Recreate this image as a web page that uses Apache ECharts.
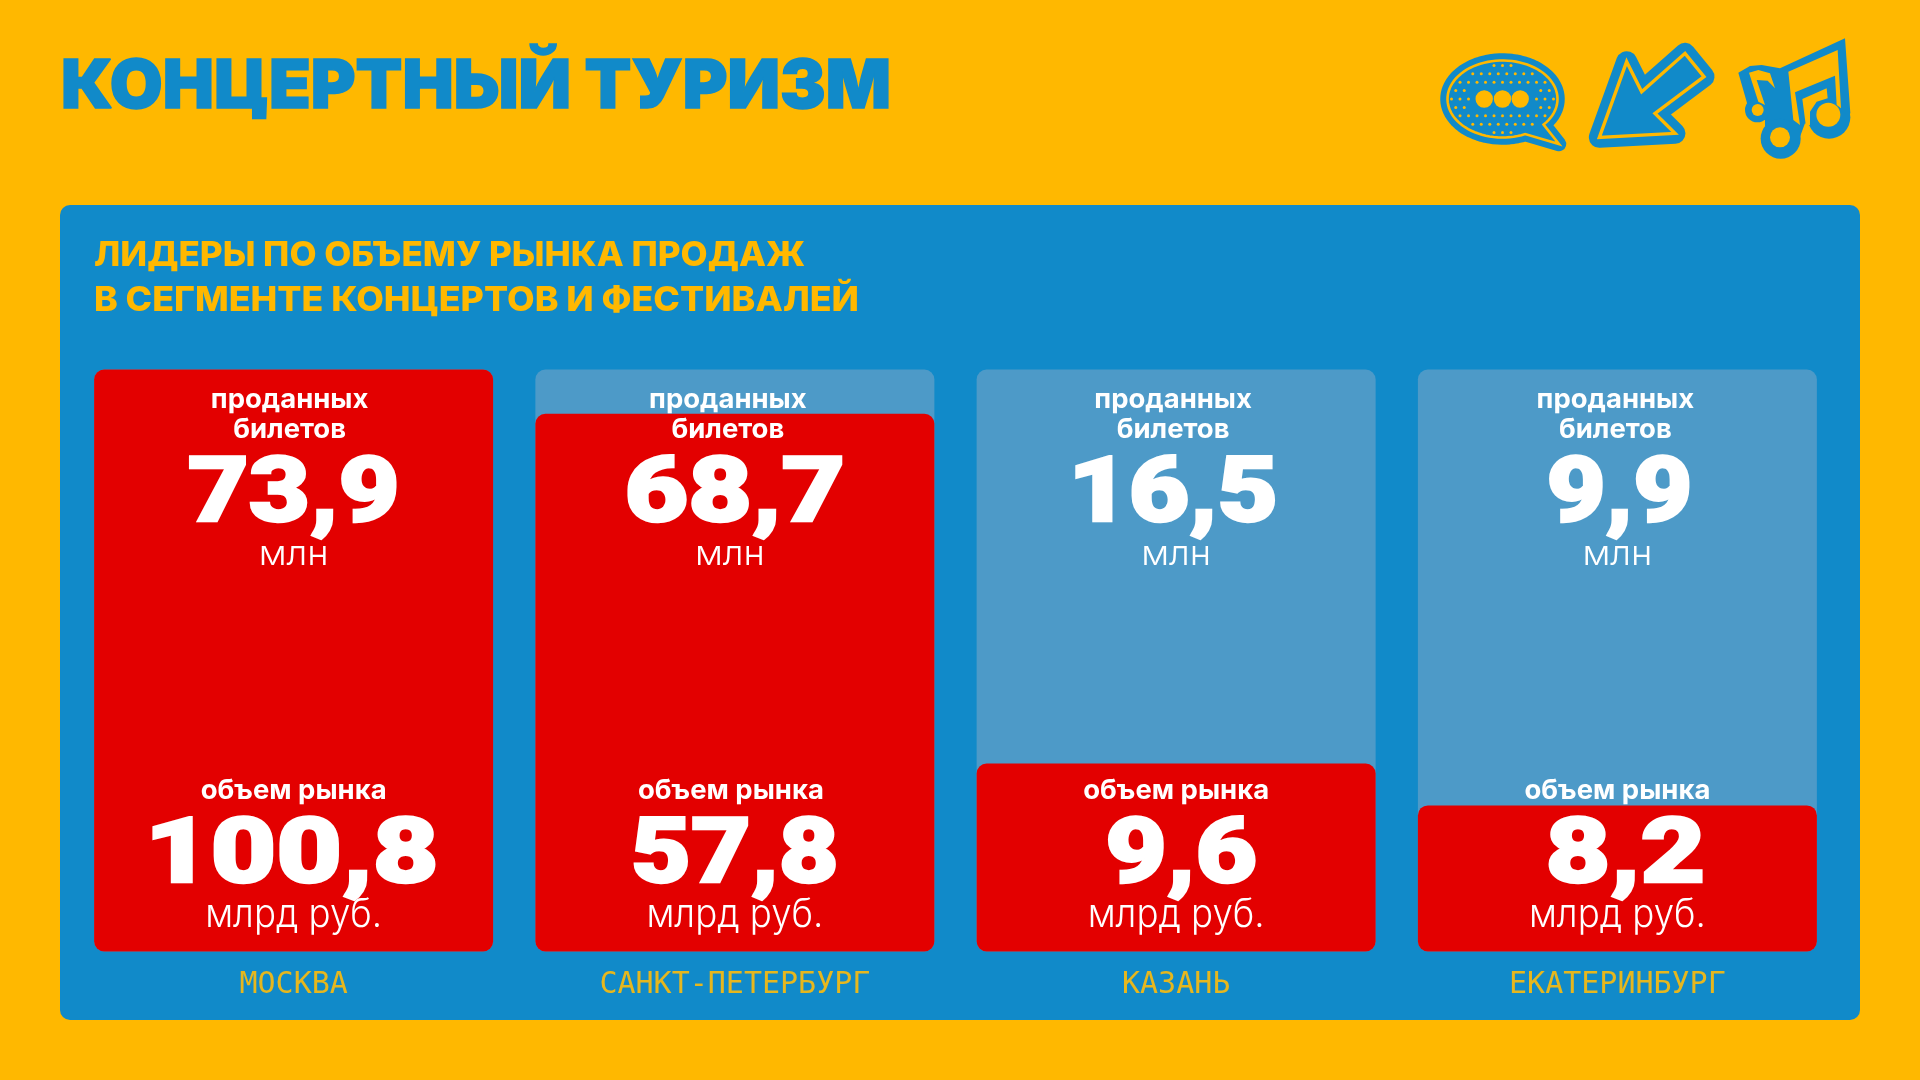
<!DOCTYPE html>
<html><head><meta charset="utf-8">
<style>html,body{margin:0;padding:0;background:#FFB800;width:1920px;height:1080px;overflow:hidden}#c{width:1920px;height:1080px}</style>
<script src="https://cdn.jsdelivr.net/npm/echarts@6/dist/echarts.min.js"></script>
</head><body><div id="c"></div>
<script>
const titleText = 'КОНЦЕРТНЫЙ ТУРИЗМ';
const subtitleLines = ['ЛИДЕРЫ ПО ОБЪЕМУ РЫНКА ПРОДАЖ', 'В СЕГМЕНТЕ КОНЦЕРТОВ И ФЕСТИВАЛЕЙ'];
const cities = ['МОСКВА', 'САНКТ-ПЕТЕРБУРГ', 'КАЗАНЬ', 'ЕКАТЕРИНБУРГ'];
const ticketLabels = ['73,9', '68,7', '16,5', '9,9'];
const marketLabels = ['100,8', '57,8', '9,6', '8,2'];
// heights of the blocks, in % of the full card
const cardHeights = [100, 100, 100, 100];
const redHeights = [100, 92.4, 32.3, 25.1];

const BLUE = '#118AC9', YEL = '#FFB800', RED = '#E30000', PALE = '#4D9AC8';
const ctx = document.createElement('canvas').getContext('2d');
function fit(text, font, w) { ctx.font = font; return w / ctx.measureText(text).width; }

const F = {
  head: '700 27px Inter, sans-serif',
  num: '900 90px Roboto, sans-serif',
  mln: '300 35px Inter, sans-serif',
  rub: '300 39px Inter, sans-serif',
  title: '900 68px Inter, sans-serif',
  sub: '800 34px Inter, sans-serif'
};
// drawn widths and nudges of the big figures (style, not data)
const ticketWidths = [212, 221, 210, 146];
const marketWidths = [294, 208, 152, 160];
const ticketShift = [0, 0, -3, 2];
const marketNudge = [-2, 0, 5, 8];
const sHead = fit('объем рынка', F.head, 186);
const sMln = fit('млн', F.mln, 70);
const sRub = fit('млрд руб.', F.rub, 177);

function txt(x, y, text, font, sx, extra) {
  return { type: 'text', x: x, y: y, scaleX: sx, scaleY: 1, z2: 5,
    style: Object.assign({ text: text, x: 0, y: 0, font: font, fill: '#fff', align: 'center', verticalAlign: 'middle' }, extra || {}) };
}
const upperShift = [-4, -7, -3, -2];
const marketShift = [0, -4, 0, 0];
const NUM = { stroke: '#fff', lineWidth: 2.5, lineJoin: 'round' };

function renderTexts(params, api) {
  const i = api.value(0);
  const x = api.coord([i, 0])[0], top = api.coord([i, 100])[1];
  const s = upperShift[i];
  return { type: 'group', children: [
    txt(x + s, top + 30, 'проданных', F.head, sHead),
    txt(x + s, top + 60, 'билетов', F.head, sHead),
    txt(x + ticketShift[i], top + 129, ticketLabels[i], F.num, fit(ticketLabels[i], F.num, ticketWidths[i]), NUM),
    txt(x + (i === 1 ? -5 : 0), top + 185, 'млн', F.mln, sMln),
    txt(x + marketShift[i], top + 421, 'объем рынка', F.head, sHead),
    txt(x + marketNudge[i], top + 490, marketLabels[i], F.num, fit(marketLabels[i], F.num, marketWidths[i]), NUM),
    txt(x, top + 546, 'млрд руб.', F.rub, sRub)
  ]};
}

// decorative icons
function poly(pts, style, z, ox, oy, k) {
  return { type: 'polygon', z: z, shape: { points: pts.map(p => [p[0] / k + ox, p[1] / k + oy]) }, style: style };
}
function bubblePoints() {
  const pts = [];
  const ex = 1502.5, ey = 99, rx = 55, ry = 38.5;
  const a0 = Math.atan2((127 - ey) / ry, (1547.5 - ex) / rx);
  const a1 = Math.atan2((137 - ey) / ry, (1527 - ex) / rx);
  const end = a1 - 2 * Math.PI;
  for (let t = 0; t <= 80; t++) {
    const a = a0 + (end - a0) * t / 80;
    pts.push([ex + rx * Math.cos(a), ey + ry * Math.sin(a)]);
  }
  pts.push([1559, 144]);
  return pts;
}
function icons() {
  const out = [];
  const bubble = bubblePoints();
  out.push({ type: 'polygon', z: 3, shape: { points: bubble }, style: { fill: BLUE, stroke: BLUE, lineWidth: 14.5, lineJoin: 'round' } });
  out.push({ type: 'polygon', z: 3, shape: { points: bubble }, style: { fill: BLUE, stroke: YEL, lineWidth: 2.6, lineJoin: 'miter' } });
  const cx = 1502.5, cy = 99, dx = 8.5, dy = 8.4;
  for (let r = -4; r <= 4; r++) {
    for (let c = -7; c <= 7; c++) {
      const px = c * dx + (r % 2 ? dx / 2 : 0), py = r * dy;
      if ((px * px) / (51 * 51) + (py * py) / (35 * 35) > 1) continue;
      if (Math.abs(r) <= 1 && Math.abs(px) < 32) continue;
      out.push({ type: 'circle', z: 4, shape: { cx: cx + px, cy: cy + py, r: 1.5 }, style: { fill: YEL } });
    }
  }
  [-18.3, 0, 17.7].forEach(d => out.push({ type: 'circle', z: 4, shape: { cx: cx + d, cy: cy, r: 8.7 }, style: { fill: YEL } }));
  // arrow
  const arrow = [[680,125],[725,215],[855,100],[912,170],[765,280],[825,340],[598,352]];
  out.push(poly(arrow, { fill: BLUE, stroke: BLUE, lineWidth: 21, lineJoin: 'round' }, 3, 1400, 20, 3));
  out.push(poly(arrow, { fill: BLUE, stroke: YEL, lineWidth: 3.4, lineJoin: 'miter' }, 4, 1400, 20, 3));
  // notes
  const ox = 1725, oy = 30, k = 3;
  const C = (x, y, r, f, z) => ({ type: 'circle', z: z, shape: { cx: x / k + ox, cy: y / k + oy, r: r / k }, style: { fill: f } });
  out.push(poly([[40,128],[75,108],[110,105],[165,115],[360,25],[376,250],[300,310],[240,280],[225,320],[120,320],[120,270],[75,260],[65,215]], { fill: BLUE }, 3, ox, oy, k));
  out.push(C(312, 262, 64, BLUE, 3), C(167, 326, 60, BLUE, 3), C(97, 240, 37, BLUE, 3));
  out.push(poly([[190,125],[338,60],[348,235],[335,225],[330,137],[210,187],[225,285],[205,270]], { fill: YEL }, 4, ox, oy, k));
  out.push(poly([[232,207],[305,175],[308,205],[275,215],[255,245],[255,285],[243,290]], { fill: YEL }, 4, ox, oy, k));
  out.push(poly([[72,128],[100,120],[135,130],[150,175],[128,152],[95,150],[120,225],[100,215]], { fill: YEL }, 4, ox, oy, k));
  out.push(C(310, 254, 36, YEL, 4), C(165, 322, 30, YEL, 4), C(98, 240, 18, YEL, 4));
  return out;
}

const chart = echarts.init(document.getElementById('c'), null, { renderer: 'canvas' });
chart.setOption({
  animation: false,
  backgroundColor: YEL,
  grid: { left: 73, top: 369.5, width: 1765, height: 582, containLabel: false },
  xAxis: { type: 'category', data: cities, axisLine: { show: false }, axisTick: { show: false },
    axisLabel: { color: '#E6B71E', fontFamily: '"DejaVu Sans Mono", monospace', fontSize: 30, margin: 19, interval: 0 } },
  yAxis: { type: 'value', min: 0, max: 100, show: false },
  graphic: { elements: [
    { type: 'rect', z: -10, shape: { x: 60, y: 205, width: 1800, height: 815, r: 10 }, style: { fill: BLUE } },
    { type: 'text', x: 476, y: 88, scaleX: fit(titleText, F.title, 830), style: { text: titleText, font: F.title, fill: BLUE, stroke: BLUE, lineWidth: 1.5, align: 'center', verticalAlign: 'middle', x: 0, y: 0 } },
    { type: 'text', x: 94, y: 256, scaleX: fit(subtitleLines[0], F.sub, 711), style: { text: subtitleLines[0], font: F.sub, fill: YEL, align: 'left', verticalAlign: 'middle', x: 0, y: 0 } },
    { type: 'text', x: 94, y: 301, scaleX: fit(subtitleLines[1], F.sub, 765), style: { text: subtitleLines[1], font: F.sub, fill: YEL, align: 'left', verticalAlign: 'middle', x: 0, y: 0 } }
  ].concat(icons()) },
  series: [
    { type: 'bar', name: 'card', data: cardHeights, barWidth: 399, barGap: '-100%', z: 2, silent: true,
      itemStyle: { color: PALE, borderRadius: 10 } },
    { type: 'bar', name: 'red', data: redHeights, barWidth: 399, barGap: '-100%', z: 3, silent: true,
      itemStyle: { color: RED, borderRadius: 10 } },
    { type: 'custom', name: 'labels', data: cities.map((c, i) => [i]), encode: { x: 0 }, z: 10, silent: true, clip: false, renderItem: renderTexts }
  ]
});
</script></body></html>
